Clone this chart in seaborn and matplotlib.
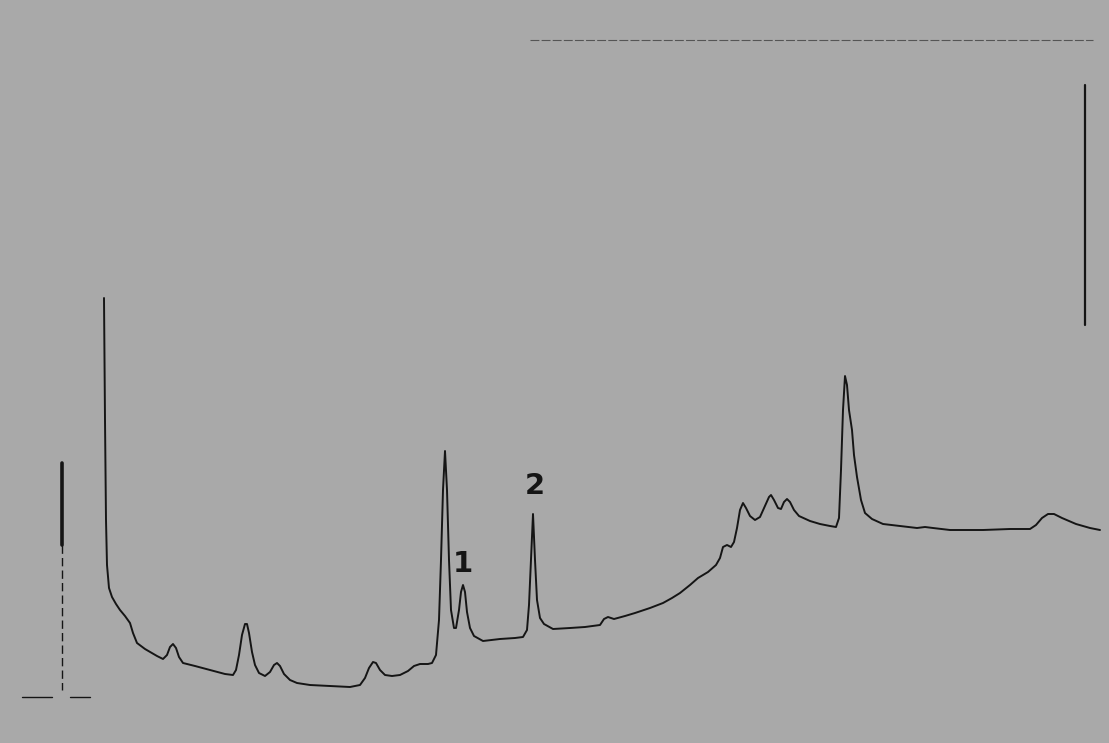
import matplotlib
matplotlib.use("Agg")
import matplotlib.pyplot as plt
import pandas as pd
import seaborn as sns

# Chromatogram trace
# (time along the chart, signal measured upward from the bottom edge)
retention_time = [
    104, 105, 106, 107, 109, 112, 116, 120, 125, 130, 133, 137, 145, 157, 163, 167, 170, 173, 176, 179,
    183, 195, 210, 225, 233, 236, 239, 242, 245, 247, 249, 252, 255, 259, 265, 270, 274, 277, 280, 284,
    290, 297, 310, 330, 350, 360, 365, 369, 373, 376, 380, 385, 392, 400, 408, 414, 420, 428, 432, 436,
    439, 441, 443, 445, 447, 449, 451, 454, 456, 459, 461, 463, 465, 467, 470, 474, 483, 500, 515, 523,
    527, 529, 531, 533, 535, 537, 540, 544, 553, 570, 585, 600, 604, 608, 614, 625, 635, 650, 663, 672,
    680, 690, 698, 708, 716, 720, 723, 727, 731, 734, 737, 740, 743, 746, 750, 755, 760, 765, 769, 771,
    774, 778, 781, 784, 787, 790, 794, 799, 810, 820, 830, 836, 839, 841, 843, 845, 847, 849, 852, 854,
    857, 861, 865, 872, 883, 900, 917, 925, 933, 950, 983, 1010, 1030, 1036, 1042, 1048, 1054, 1062, 1076, 1090,
    1100,
]
signal = [
    445, 323, 223, 178, 155, 146, 139, 133, 127, 120, 110, 100, 94, 87, 84, 88, 96, 99, 95, 86,
    80, 77, 73, 69, 68, 73, 88, 108, 119, 119, 110, 91, 78, 70, 67, 71, 78, 80, 77, 69,
    63, 60, 58, 57, 56, 58, 65, 75, 81, 80, 73, 68, 67, 68, 72, 77, 79, 79, 80, 88,
    123, 183, 253, 292, 253, 183, 133, 115, 115, 133, 151, 158, 151, 131, 115, 107, 102, 104, 105, 106,
    113, 138, 183, 229, 183, 143, 125, 119, 114, 115, 116, 118, 124, 126, 124, 127, 130, 135, 140, 145,
    150, 158, 165, 171, 178, 185, 196, 198, 196, 201, 215, 233, 240, 235, 227, 223, 226, 237, 246, 248,
    243, 235, 234, 241, 244, 241, 233, 227, 222, 219, 217, 216, 225, 273, 333, 367, 358, 333, 313, 288,
    266, 243, 230, 224, 219, 217, 215, 216, 215, 213, 213, 214, 214, 218, 225, 229, 229, 225, 219, 215,
    213,
]

peak_labels = ["1", "2"]
peak_label_time = [463, 535]
peak_label_signal = [165, 243]

# pen marks on the chart paper: injection mark, attenuation mark, top guide line
inject_time = [62, 62]
inject_signal = [280, 53]
atten_time = [1085, 1085]
atten_signal = [658, 418]
guide_time = [530, 1093]
guide_signal = [703, 703]
tick_time = [[22, 52], [70, 90]]
tick_signal = [[46, 46], [46, 46]]

paper = "#a9a9a9"
ink = "#151515"

sns.set_style("white")
fig = plt.figure(figsize=(11.09, 7.43), dpi=100)
fig.patch.set_facecolor(paper)
ax = fig.add_axes([0, 0, 1, 1])
ax.set_facecolor(paper)

trace = pd.DataFrame({"time": retention_time, "signal": signal})
sns.lineplot(data=trace, x="time", y="signal", sort=False, estimator=None,
             color=ink, linewidth=1.4, ax=ax)

ax.plot(inject_time, [inject_signal[0], 198], color=ink, linewidth=2.6)
ax.plot(inject_time, [198, inject_signal[1]], color=ink, linewidth=1.0, linestyle=(0, (6, 3)))
ax.plot(atten_time, atten_signal, color=ink, linewidth=1.6)
ax.plot(guide_time, guide_signal, color="#555555", linewidth=0.8, linestyle=(0, (8, 2)))
for tx, ty in zip(tick_time, tick_signal):
    ax.plot(tx, ty, color=ink, linewidth=1.0)

for lab, tx, ty in zip(peak_labels, peak_label_time, peak_label_signal):
    ax.text(tx, ty, lab, ha="center", va="bottom", fontsize=21,
            fontweight="bold", color=ink, family="DejaVu Sans")

ax.set_xlim(0, 1109)
ax.set_ylim(0, 743)
ax.axis("off")

fig.savefig("out.png", dpi=100, facecolor=paper)
